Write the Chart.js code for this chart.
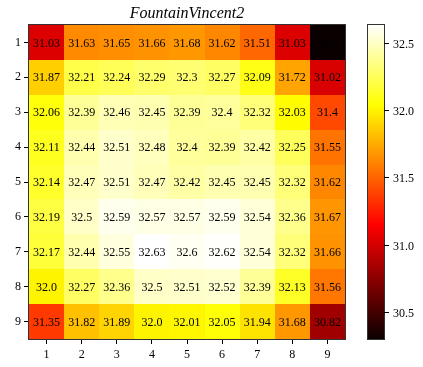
<!DOCTYPE html>
<html><head><meta charset="utf-8">
<script src="https://cdn.jsdelivr.net/npm/chart.js@4/dist/chart.umd.min.js"></script>
<style>html,body{margin:0;padding:0;background:#fff;}</style>
</head><body>
<canvas id="c" width="423" height="367"></canvas>
<script>
const chartTitle = 'FountainVincent2';
const columns = [1, 2, 3, 4, 5, 6, 7, 8, 9];
const rows = [1, 2, 3, 4, 5, 6, 7, 8, 9];
const row1 = [31.03, 31.63, 31.65, 31.66, 31.68, 31.62, 31.51, 31.03, 30.3];
const row2 = [31.87, 32.21, 32.24, 32.29, 32.3, 32.27, 32.09, 31.72, 31.02];
const row3 = [32.06, 32.39, 32.46, 32.45, 32.39, 32.4, 32.32, 32.03, 31.4];
const row4 = [32.11, 32.44, 32.51, 32.48, 32.4, 32.39, 32.42, 32.25, 31.55];
const row5 = [32.14, 32.47, 32.51, 32.47, 32.42, 32.45, 32.45, 32.32, 31.62];
const row6 = [32.19, 32.5, 32.59, 32.57, 32.57, 32.59, 32.54, 32.36, 31.67];
const row7 = [32.17, 32.44, 32.55, 32.63, 32.6, 32.62, 32.54, 32.32, 31.66];
const row8 = [32.0, 32.27, 32.36, 32.5, 32.51, 32.52, 32.39, 32.13, 31.56];
const row9 = [31.35, 31.82, 31.89, 32.0, 32.01, 32.05, 31.94, 31.68, 30.82];
const colorbarTicks = [30.5, 31.0, 31.5, 32.0, 32.5];

const matrix = [row1, row2, row3, row4, row5, row6, row7, row8, row9];
const allVals = matrix.flat();
const vmin = Math.min(...allVals);
const vmax = Math.max(...allVals);

const cells = [];
rows.forEach((r, i) => columns.forEach((c, j) => cells.push({x: c, y: r, v: matrix[i][j]})));

function hotRGB(t) {
  t = Math.max(0, Math.min(1, t));
  const a = 0.365079, b = 0.746032;
  const r = t < a ? 0.0416 + (1 - 0.0416) * t / a : 1;
  const g = t < a ? 0 : (t < b ? (t - a) / (b - a) : 1);
  const bl = t < b ? 0 : (t - b) / (1 - b);
  return `rgb(${Math.round(r*255)},${Math.round(g*255)},${Math.round(bl*255)})`;
}
function fmt(v) { const s = String(v); return s.includes('.') ? s : s + '.0'; }

const FONT = '"Liberation Serif", "Times New Roman", serif';

const heat = {
  id: 'heat',
  beforeDatasetsDraw(chart) {
    const {ctx, chartArea: ca, scales: {x, y, cb}} = chart;
    ctx.save();
    chart.data.datasets[0].data.forEach(p => {
      const x0 = Math.round(x.getPixelForValue(p.x - 0.5)), x1 = Math.round(x.getPixelForValue(p.x + 0.5));
      const y0 = Math.round(y.getPixelForValue(p.y - 0.5)), y1 = Math.round(y.getPixelForValue(p.y + 0.5));
      ctx.fillStyle = hotRGB((p.v - vmin) / (vmax - vmin));
      ctx.fillRect(Math.min(x0, x1), Math.min(y0, y1), Math.abs(x1 - x0), Math.abs(y1 - y0));
    });
    ctx.fillStyle = '#000';
    ctx.font = '12px ' + FONT;
    ctx.textAlign = 'center';
    ctx.textBaseline = 'middle';
    chart.data.datasets[0].data.forEach(p => {
      ctx.fillText(fmt(p.v), x.getPixelForValue(p.x), y.getPixelForValue(p.y) + 1);
    });
    // frame
    ctx.strokeStyle = '#333';
    ctx.lineWidth = 1;
    ctx.strokeRect(Math.round(ca.left) - 0.5, Math.round(ca.top) - 0.5, Math.round(ca.right - ca.left) + 1, Math.round(ca.bottom - ca.top) + 1);
    // title
    ctx.font = 'italic 16px ' + FONT;
    ctx.textBaseline = 'alphabetic';
    ctx.fillText(chartTitle, (ca.left + ca.right) / 2, 18);
    // colorbar
    const cx0 = Math.round(ca.right) + 23, cw = 16;
    const top = cb.getPixelForValue(vmax), bot = cb.getPixelForValue(vmin);
    const grad = ctx.createLinearGradient(0, bot, 0, top);
    [0, 0.365079, 0.746032, 1].forEach(s => grad.addColorStop(s, hotRGB(s)));
    ctx.fillStyle = grad;
    ctx.fillRect(cx0, top, cw, bot - top);
    ctx.strokeStyle = '#333';
    ctx.strokeRect(cx0 - 0.5, Math.round(top) - 0.5, cw + 1, Math.round(bot - top) + 1);
    ctx.fillStyle = '#000';
    ctx.font = '12px ' + FONT;
    ctx.textAlign = 'left';
    ctx.textBaseline = 'middle';
    ctx.beginPath();
    colorbarTicks.forEach(t => {
      const py = Math.round(cb.getPixelForValue(t)) + 0.5;
      ctx.moveTo(cx0 + cw, py); ctx.lineTo(cx0 + cw + 5, py);
      ctx.fillText(fmt(t), cx0 + cw + 9, py + 1);
    });
    ctx.strokeStyle = '#000';
    ctx.stroke();
    ctx.restore();
  }
};

new Chart(document.getElementById('c'), {
  type: 'scatter',
  data: { datasets: [{ data: cells, pointRadius: 0, pointHoverRadius: 0 }] },
  options: {
    responsive: false,
    animation: false,
    events: [],
    devicePixelRatio: 1,
    layout: { padding: { top: 25, right: 78, bottom: 0, left: 0 } },
    plugins: { legend: { display: false }, tooltip: { enabled: false }, title: { display: false } },
    scales: {
      x: {
        type: 'linear', position: 'bottom', min: 0.5, max: 9.5,
        afterBuildTicks: s => { s.ticks = columns.map(v => ({value: v})); },
        afterFit: s => { s.height = 28; },
        ticks: { callback: v => String(v), color: '#000', font: { family: FONT, size: 12 }, padding: 4, maxRotation: 0, autoSkip: false },
        grid: { drawOnChartArea: false, drawTicks: true, tickLength: 5, color: '#000', tickColor: '#000' },
        border: { display: false }
      },
      y: {
        type: 'linear', position: 'left', min: 0.5, max: 9.5, reverse: true,
        afterBuildTicks: s => { s.ticks = rows.map(v => ({value: v})); },
        afterFit: s => { s.width = 29; },
        ticks: { callback: v => String(v), color: '#000', font: { family: FONT, size: 12 }, padding: 3, autoSkip: false },
        grid: { drawOnChartArea: false, drawTicks: true, tickLength: 5, color: '#000', tickColor: '#000' },
        border: { display: false }
      },
      cb: { type: 'linear', position: 'right', display: false, min: vmin, max: vmax }
    }
  },
  plugins: [heat]
});
</script>
</body></html>
